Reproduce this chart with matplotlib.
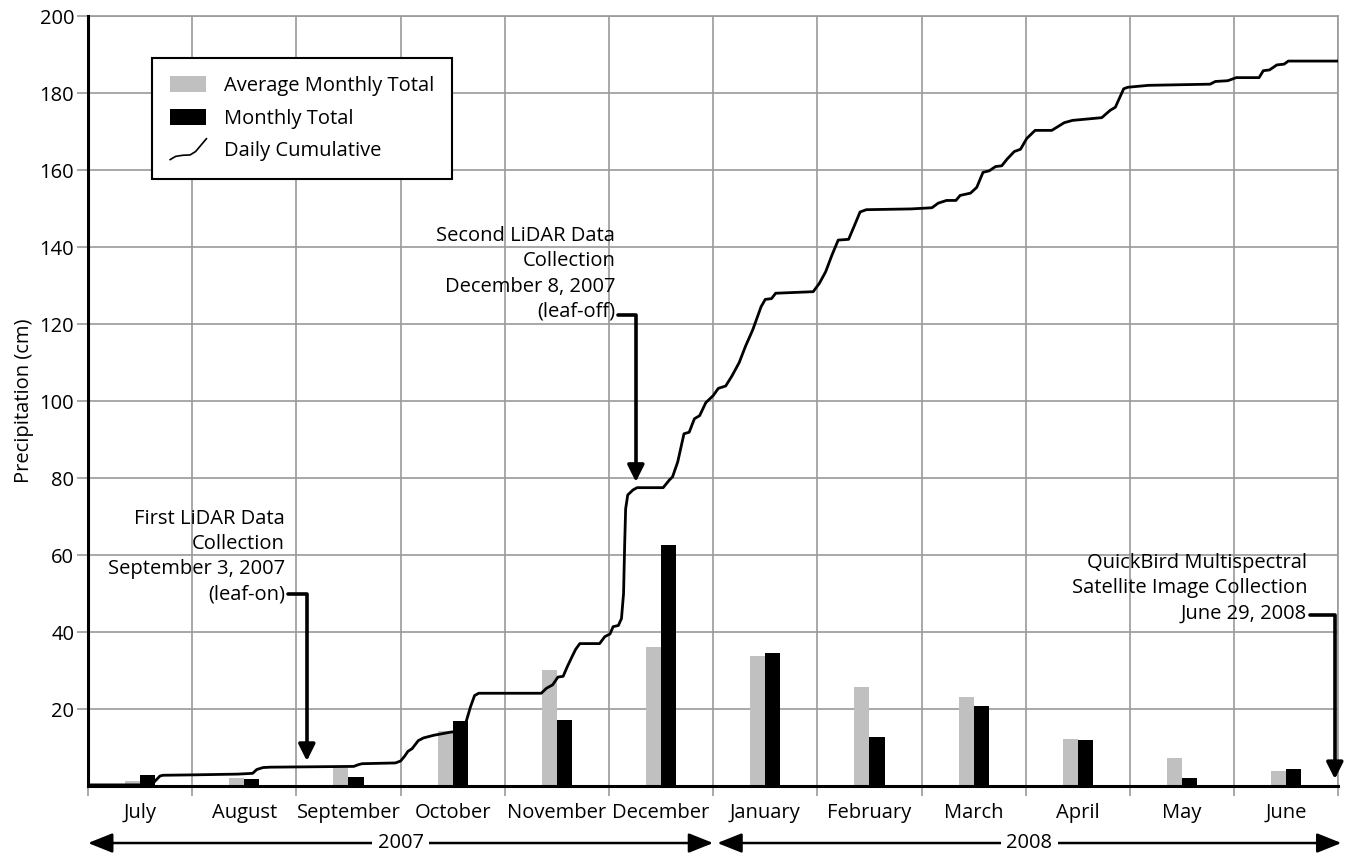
import numpy as np
import matplotlib
matplotlib.use("Agg")
import matplotlib.pyplot as plt
import matplotlib.transforms as mtransforms
from matplotlib.patches import Patch
from matplotlib.lines import Line2D
from matplotlib.legend_handler import HandlerBase

plt.rcParams["font.family"] = ["Open Sans", "DejaVu Sans"]
plt.rcParams["font.size"] = 14.5

# Water year July 2007 - June 2008
MONTHS = ["July", "August", "September", "October", "November", "December",
          "January", "February", "March", "April", "May", "June"]
MONTH_DAYS = [31, 31, 30, 31, 30, 31, 31, 29, 31, 30, 31, 30]

# monthly precipitation (cm)
AVG_MONTHLY = [1.2, 2.2, 5.3, 14.3, 30.2, 36.1, 33.8, 25.6, 23.2, 12.2, 7.2, 4.0]
MONTHLY = [2.9, 1.9, 2.4, 17.0, 17.2, 62.5, 34.5, 12.8, 20.7, 12.0, 2.1, 4.3]

# daily cumulative trace, x in months since July 1
CUM_POS = [0.00, 0.60, 0.64, 0.69, 0.72, 1.00, 1.44, 1.58, 1.62, 1.68, 1.75,
           2.55, 2.60, 2.63, 2.95, 3.00, 3.04, 3.07, 3.11, 3.17, 3.22, 3.32,
           3.48, 3.59, 3.63, 3.67, 3.71, 3.75, 4.35, 4.40, 4.46, 4.51, 4.56,
           4.60, 4.64, 4.68, 4.72, 4.91, 4.96, 5.01, 5.04, 5.09, 5.12, 5.14,
           5.15, 5.16, 5.18, 5.23, 5.27, 5.52, 5.58, 5.61, 5.66, 5.72, 5.77,
           5.82, 5.87, 5.93, 6.00, 6.05, 6.12, 6.18, 6.25, 6.31, 6.38, 6.46,
           6.50, 6.56, 6.60, 6.96, 7.02, 7.08, 7.14, 7.20, 7.30, 7.35, 7.41,
           7.47, 7.90, 8.10, 8.16, 8.24, 8.33, 8.37, 8.47, 8.53, 8.59, 8.65,
           8.71, 8.77, 8.82, 8.89, 8.95, 9.01, 9.09, 9.25, 9.37, 9.45, 9.73,
           9.81, 9.86, 9.94, 9.98, 10.18, 10.77, 10.82, 10.94, 11.02, 11.24,
           11.28, 11.34, 11.41, 11.48, 11.52, 12.00]
CUM_VAL = [0.3, 0.3, 1.2, 2.6, 2.8, 2.9, 3.1, 3.3, 4.3, 4.8, 4.9,
           5.1, 5.6, 5.8, 6.0, 6.5, 7.8, 9.0, 9.7, 11.8, 12.5, 13.2,
           14.0, 14.3, 16.8, 20.5, 23.5, 24.1, 24.1, 25.4, 26.3, 28.3, 28.5,
           31.0, 33.3, 35.5, 37.0, 37.0, 38.8, 39.5, 41.4, 41.7, 43.5, 50.0,
           62.0, 72.0, 75.6, 76.9, 77.5, 77.5, 79.5, 80.3, 84.2, 91.5, 91.9,
           95.4, 96.2, 99.6, 101.4, 103.3, 103.9, 106.5, 110.0, 114.2, 118.5, 124.5,
           126.4, 126.6, 128.0, 128.4, 130.6, 133.6, 137.9, 141.8, 142.0, 145.2, 149.1,
           149.7, 149.9, 150.2, 151.4, 152.1, 152.1, 153.4, 154.0, 155.5, 159.4, 159.8,
           160.9, 161.1, 162.8, 164.8, 165.4, 168.2, 170.3, 170.3, 172.3, 172.9, 173.6,
           175.5, 176.3, 181.1, 181.5, 182.0, 182.3, 183.0, 183.2, 184.0, 184.0,
           185.8, 186.0, 187.3, 187.5, 188.3, 188.3]

# image acquisitions: (month index, day of month, caption)
EVENTS = [
    (2, 3, "First LiDAR Data\nCollection\nSeptember 3, 2007\n(leaf-on)"),
    (5, 8, "Second LiDAR Data\nCollection\nDecember 8, 2007\n(leaf-off)"),
    (11, 29, "QuickBird Multispectral\nSatellite Image Collection\nJune 29, 2008"),
]
# caption layout: (text right edge in months, block centre, connector level, arrow tip)
EVENT_LAYOUT = [
    (1.89, 59.6, 49.9, 6.5),
    (5.06, 133.0, 122.3, 79.0),
    (11.70, 51.4, 44.4, 1.8),
]

GRAY_BAR = "#c0c0c0"
GRID = "#9a9a9a"
BAR_W = 0.145
FS = 14.5


class CurveHandler(HandlerBase):
    """Legend glyph: a small rising curve instead of a straight line."""

    def create_artists(self, legend, orig_handle, xdescent, ydescent,
                       width, height, fontsize, trans):
        fx = np.array([0.0, 0.15, 0.35, 0.55, 0.7, 0.85, 1.0])
        fy = np.array([-0.15, 0.05, 0.12, 0.14, 0.35, 0.75, 1.15])
        line = Line2D(-xdescent + fx * width, -ydescent + fy * height,
                      color="black", lw=1.2, transform=trans)
        return [line]


fig = plt.figure(figsize=(13.48, 8.57), dpi=100)
ax = fig.add_axes((0.0653, 0.0828, 0.9275, 0.8985))

x = np.arange(len(MONTHS)) + 0.5
ax.bar(x - BAR_W, AVG_MONTHLY, width=BAR_W, align="edge", color=GRAY_BAR, zorder=2)
ax.bar(x, MONTHLY, width=BAR_W, align="edge", color="black", zorder=2)
ax.plot(CUM_POS, CUM_VAL, color="black", lw=2.0, zorder=3)

ax.set_xlim(0, 12)
ax.set_ylim(0, 200)
ax.set_yticks(np.arange(20, 201, 20))
ax.set_xticks(np.arange(0, 13))
ax.set_xticklabels([])
ax.set_xticks(x, minor=True)
ax.set_xticklabels(MONTHS, minor=True)
ax.tick_params(axis="x", which="major", direction="out", length=7,
               width=1.2, color=GRID)
ax.tick_params(axis="x", which="minor", length=0, pad=12, labelsize=FS)
ax.tick_params(axis="y", direction="out", length=8, width=1.2, color=GRID,
               pad=2, labelsize=FS)
ax.grid(True, which="major", color=GRID, lw=1.2, zorder=0)
ax.set_axisbelow(True)

for side in ("top", "right"):
    ax.spines[side].set_color(GRID)
    ax.spines[side].set_linewidth(1.2)
for side in ("left", "bottom"):
    ax.spines[side].set_color("black")
    ax.spines[side].set_linewidth(2.2)
    ax.spines[side].set_zorder(4)

ax.set_ylabel("Precipitation (cm)", fontsize=14.5, labelpad=4)

# acquisition callouts
for (month, day, caption), (tx, ty, cy, tip) in zip(EVENTS, EVENT_LAYOUT):
    ex = month + day / MONTH_DAYS[month]
    ax.text(tx, ty, caption, ha="right", va="center", fontsize=FS,
            linespacing=1.35, zorder=5)
    ax.annotate("", xy=(ex, tip), xytext=(tx + 0.03, cy),
                arrowprops=dict(arrowstyle="-|>,head_length=0.5,head_width=0.25",
                                connectionstyle="angle,angleA=0,angleB=90,rad=0",
                                color="black", lw=2.6, shrinkA=0, shrinkB=0,
                                mutation_scale=20),
                zorder=5)

# year spans below the month labels
trans = mtransforms.blended_transform_factory(ax.transData, ax.transAxes)
for year, (x0, x1) in zip(["2007", "2008"], [(0.0, 6.0), (6.04, 12.03)]):
    ax.annotate("", xy=(x0, -0.074), xytext=(x1, -0.074), xycoords=trans,
                textcoords=trans,
                arrowprops=dict(arrowstyle="<|-|>,head_length=0.75,head_width=0.3",
                                color="black", lw=1.8, shrinkA=0, shrinkB=0,
                                mutation_scale=20),
                annotation_clip=False)
    ax.text((x0 + x1) / 2, -0.074, year, transform=trans, ha="center",
            va="center", fontsize=FS,
            bbox=dict(facecolor="white", edgecolor="none", pad=4))

handles = [Patch(facecolor=GRAY_BAR, edgecolor="none"),
           Patch(facecolor="black", edgecolor="none"),
           Line2D([], [], color="black")]
labels = ["Average Monthly Total", "Monthly Total", "Daily Cumulative"]
leg = ax.legend(handles, labels, loc="upper left",
                bbox_to_anchor=(0.1128, 0.9323), bbox_transform=fig.transFigure,
                handler_map={Line2D: CurveHandler()},
                fontsize=FS, frameon=True, fancybox=False, framealpha=1,
                edgecolor="black", borderpad=0.9, labelspacing=0.62,
                handlelength=1.8, handleheight=0.85, handletextpad=0.85,
                borderaxespad=0)
leg.get_frame().set_linewidth(1.5)
leg.set_zorder(6)

fig.savefig("out.png", dpi=100)
